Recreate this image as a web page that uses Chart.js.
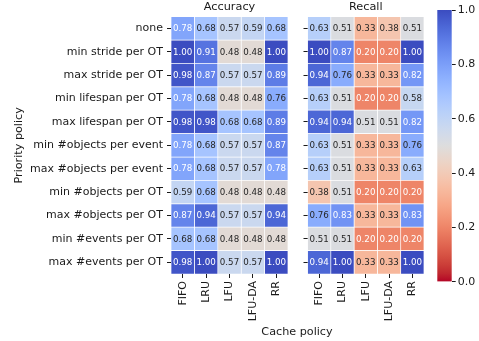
<!DOCTYPE html>
<html>
<head>
<meta charset="utf-8">
<script src="https://cdn.jsdelivr.net/npm/chart.js@4/dist/chart.umd.min.js"></script>
<style>
  html, body { margin: 0; padding: 0; background: #fff; }
  #wrap { position: relative; width: 479px; height: 341px; overflow: hidden; }
  canvas { position: absolute; top: 0; }
</style>
</head>
<body>
<div id="wrap">
  <canvas id="acc" width="479" height="341" style="left:0"></canvas>
  <canvas id="rec" width="145" height="341" style="left:290px"></canvas>
  <canvas id="cbar" width="49" height="341" style="left:430px"></canvas>
</div>
<script>
// ---- data ----
const cachePolicies = ['FIFO', 'LRU', 'LFU', 'LFU-DA', 'RR'];
const priorityPolicies = [
  'none',
  'min stride per OT',
  'max stride per OT',
  'min lifespan per OT',
  'max lifespan per OT',
  'min #objects per event',
  'max #objects per event',
  'min #objects per OT',
  'max #objects per OT',
  'min #events per OT',
  'max #events per OT'
];

// Accuracy, one array per cache policy (rows follow priorityPolicies)
const accFIFO  = [0.78, 1.00, 0.98, 0.78, 0.98, 0.78, 0.78, 0.59, 0.87, 0.68, 0.98];
const accLRU   = [0.68, 0.91, 0.87, 0.68, 0.98, 0.68, 0.68, 0.68, 0.94, 0.68, 1.00];
const accLFU   = [0.57, 0.48, 0.57, 0.48, 0.68, 0.57, 0.57, 0.48, 0.57, 0.48, 0.57];
const accLFUDA = [0.59, 0.48, 0.57, 0.48, 0.68, 0.57, 0.57, 0.48, 0.57, 0.48, 0.57];
const accRR    = [0.68, 1.00, 0.89, 0.76, 0.89, 0.87, 0.78, 0.48, 0.94, 0.48, 1.00];

// Recall, one array per cache policy
const recFIFO  = [0.63, 1.00, 0.94, 0.63, 0.94, 0.63, 0.63, 0.38, 0.76, 0.51, 0.94];
const recLRU   = [0.51, 0.87, 0.76, 0.51, 0.94, 0.51, 0.51, 0.51, 0.83, 0.51, 1.00];
const recLFU   = [0.33, 0.20, 0.33, 0.20, 0.51, 0.33, 0.33, 0.20, 0.33, 0.20, 0.33];
const recLFUDA = [0.38, 0.20, 0.33, 0.20, 0.51, 0.33, 0.33, 0.20, 0.33, 0.20, 0.33];
const recRR    = [0.51, 1.00, 0.82, 0.58, 0.82, 0.76, 0.63, 0.20, 0.83, 0.20, 1.00];

const colorbarRange = [0, 1];

// ---- colour map (coolwarm, reversed: 1 = blue, 0 = red) ----
const COOLWARM = [
  [59,76,192],[68,90,204],[77,104,215],[87,117,225],[98,130,234],[108,142,241],
  [119,154,247],[130,165,251],[141,176,254],[152,185,255],[163,194,255],[174,201,253],
  [184,208,249],[194,213,244],[204,217,238],[213,219,230],[221,221,221],[229,216,209],
  [236,211,197],[241,204,185],[245,196,173],[247,187,160],[247,177,148],[247,166,135],
  [244,154,123],[241,141,111],[236,127,99],[229,112,88],[222,96,77],[213,80,66],
  [203,62,56],[192,40,47],[180,4,38]
];
function cmapRGB(v) {
  const t = Math.min(1, Math.max(0, 1 - v)) * (COOLWARM.length - 1);
  const i = Math.min(COOLWARM.length - 2, Math.floor(t));
  const f = t - i;
  return COOLWARM[i].map((c, k) => Math.round(c + (COOLWARM[i + 1][k] - c) * f));
}
function cmap(v) { const [r, g, b] = cmapRGB(v); return `rgb(${r},${g},${b})`; }
function textColor(v) {
  const lin = cmapRGB(v).map(c => { c /= 255; return c <= 0.03928 ? c / 12.92 : Math.pow((c + 0.055) / 1.055, 2.4); });
  const lum = 0.2126 * lin[0] + 0.7152 * lin[1] + 0.0722 * lin[2];
  return lum > 0.408 ? '#262626' : '#ffffff';
}

const FONT = 'DejaVu Sans';
const INK = '#1a1a1a';
Chart.defaults.font.family = FONT;
Chart.defaults.color = INK;

// value labels in every cell
const cellText = {
  id: 'cellText',
  afterDatasetsDraw(chart) {
    const ctx = chart.ctx;
    ctx.save();
    ctx.font = `8.7px "${FONT}"`;
    ctx.textAlign = 'center';
    ctx.textBaseline = 'middle';
    chart.data.datasets.forEach((ds, di) => {
      chart.getDatasetMeta(di).data.forEach((el, i) => {
        const v = ds.values[i];
        const p = el.getCenterPoint();
        ctx.fillStyle = textColor(v);
        ctx.fillText(v.toFixed(2), p.x, p.y + 0.5);
      });
    });
    ctx.restore();
  }
};

// shared x label under both panels
const sharedXLabel = {
  id: 'sharedXLabel',
  afterDraw(chart) {
    const ctx = chart.ctx;
    ctx.save();
    ctx.font = `11.2px "${FONT}"`;
    ctx.fillStyle = INK;
    ctx.textAlign = 'center';
    ctx.textBaseline = 'middle';
    ctx.fillText('Cache policy', 297, 332);
    ctx.restore();
  }
};

function heatmap(id, title, columns, o) {
  const datasets = columns.map((vals, c) => ({
    label: cachePolicies[c],
    values: vals,
    data: vals.map(() => [c, c + 1]),
    backgroundColor: vals.map(cmap),
    borderColor: '#ffffff',
    borderWidth: 0.7,
    borderSkipped: false,
    barPercentage: 1,
    categoryPercentage: 1,
    grouped: false
  }));
  return new Chart(document.getElementById(id), {
    type: 'bar',
    data: { labels: priorityPolicies, datasets },
    plugins: [cellText].concat(o.extraPlugins || []),
    options: {
      indexAxis: 'y',
      responsive: false,
      animation: false,
      devicePixelRatio: 1,
      layout: { padding: { top: 0, right: o.padRight, bottom: 0, left: 0 } },
      plugins: {
        legend: { display: false },
        tooltip: { enabled: false },
        title: {
          display: true, text: title, fullSize: false,
          font: { size: 11.3, weight: 'normal' }, color: INK,
          padding: { top: 0, bottom: 3.1 }
        }
      },
      scales: {
        x: {
          type: 'linear', min: 0, max: cachePolicies.length,
          afterBuildTicks: s => { s.ticks = cachePolicies.map((_, i) => ({ value: i + 0.5 })); },
          afterFit: s => { s.height = 67; },
          ticks: {
            autoSkip: false, minRotation: 90, maxRotation: 90, padding: 3,
            font: { size: 11 }, color: INK,
            callback: v => cachePolicies[Math.floor(v)]
          },
          grid: { drawOnChartArea: false, drawTicks: true, tickLength: 4, color: INK, lineWidth: 1 },
          border: { display: false }
        },
        y: {
          type: 'category', offset: true,
          afterFit: s => { s.width = o.yWidth; },
          ticks: {
            autoSkip: false, padding: 4, font: { size: 11 }, color: INK,
            callback: (v, i) => o.showLabels ? priorityPolicies[i] : ''
          },
          grid: { offset: false, drawOnChartArea: false, drawTicks: true, tickLength: 4, color: INK, lineWidth: 1 },
          border: { display: false },
          title: {
            display: !!o.yTitle, text: o.yTitle || '',
            font: { size: 11.2 }, color: INK, padding: { top: 12, bottom: 0 }
          }
        }
      }
    }
  });
}

heatmap('acc', 'Accuracy', [accFIFO, accLRU, accLFU, accLFUDA, accRR],
  { yWidth: 171, padRight: 191, showLabels: true, yTitle: 'Priority policy', extraPlugins: [sharedXLabel] });
heatmap('rec', 'Recall', [recFIFO, recLRU, recLFU, recLFUDA, recRR],
  { yWidth: 17.5, padRight: 11, showLabels: false });

// colour bar
new Chart(document.getElementById('cbar'), {
  type: 'bar',
  data: {
    labels: [''],
    datasets: [{
      data: [colorbarRange],
      barPercentage: 1, categoryPercentage: 1, borderWidth: 0,
      backgroundColor: ctx => {
        const area = ctx.chart.chartArea;
        if (!area) return cmap(0.5);
        const g = ctx.chart.ctx.createLinearGradient(0, area.bottom, 0, area.top);
        for (let k = 0; k <= 32; k++) {
          const v = colorbarRange[0] + (colorbarRange[1] - colorbarRange[0]) * k / 32;
          g.addColorStop(k / 32, cmap(v));
        }
        return g;
      }
    }]
  },
  options: {
    responsive: false, animation: false, devicePixelRatio: 1,
    layout: { padding: { top: 10, bottom: 59.3, left: 7.3, right: 0 } },
    plugins: { legend: { display: false }, tooltip: { enabled: false } },
    scales: {
      x: { display: false },
      y: {
        position: 'right', min: colorbarRange[0], max: colorbarRange[1],
        afterFit: s => { s.width = 27.3; },
        ticks: { stepSize: 0.2, padding: 2, font: { size: 11 }, color: INK, callback: v => v.toFixed(1) },
        grid: { drawOnChartArea: false, drawTicks: true, tickLength: 4, color: INK, lineWidth: 1 },
        border: { display: false }
      }
    }
  }
});
</script>
</body>
</html>
